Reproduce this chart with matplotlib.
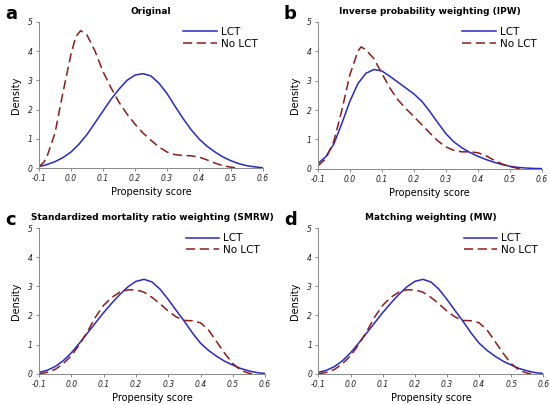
import numpy as np
import matplotlib.pyplot as plt

# x grid read at 0.025 steps (plus a few extra points near peaks)
x_a_lct = [-0.1, -0.075, -0.05, -0.025, 0.0, 0.025, 0.05, 0.075, 0.1, 0.125, 0.15, 0.175, 0.2, 0.225, 0.25,
           0.275, 0.3, 0.325, 0.35, 0.375, 0.4, 0.425, 0.45, 0.475, 0.5, 0.525, 0.55, 0.575, 0.6]
y_a_lct = [0.05, 0.12, 0.22, 0.36, 0.55, 0.82, 1.15, 1.55, 1.95, 2.35, 2.7, 3.0, 3.18, 3.23, 3.15,
           2.9, 2.55, 2.12, 1.7, 1.32, 1.0, 0.75, 0.55, 0.38, 0.25, 0.15, 0.08, 0.04, 0.01]
x_a_no = [-0.1, -0.085, -0.075, -0.05, -0.025, 0.0, 0.015, 0.03, 0.05, 0.075, 0.1, 0.125, 0.15, 0.175, 0.2,
          0.225, 0.25, 0.275, 0.3, 0.325, 0.35, 0.375, 0.4, 0.425, 0.45, 0.475, 0.5, 0.525]
y_a_no = [0.05, 0.2, 0.4, 1.2, 2.6, 3.9, 4.5, 4.7, 4.55, 4.0, 3.3, 2.75, 2.25, 1.85, 1.5,
          1.2, 0.95, 0.72, 0.55, 0.46, 0.43, 0.42, 0.38, 0.28, 0.17, 0.08, 0.03, 0.0]

x_b_lct = x_a_lct
y_b_lct = [0.18, 0.42, 0.85, 1.55, 2.3, 2.9, 3.25, 3.38, 3.33, 3.15, 2.95, 2.75, 2.55, 2.3, 1.95,
           1.57, 1.2, 0.92, 0.72, 0.56, 0.43, 0.32, 0.23, 0.15, 0.09, 0.05, 0.03, 0.015, 0.01]
x_b_no = [-0.1, -0.075, -0.05, -0.025, 0.0, 0.025, 0.035, 0.05, 0.075, 0.1, 0.125, 0.15, 0.175, 0.2, 0.225,
          0.25, 0.275, 0.3, 0.325, 0.35, 0.375, 0.4, 0.425, 0.45, 0.475, 0.5, 0.525, 0.54]
y_b_no = [0.1, 0.35, 0.95, 2.0, 3.2, 4.0, 4.15, 4.05, 3.75, 3.25, 2.75, 2.35, 2.05, 1.78, 1.5,
          1.22, 0.95, 0.75, 0.63, 0.58, 0.58, 0.55, 0.45, 0.3, 0.17, 0.08, 0.02, 0.0]

x_c_lct = x_a_lct
y_c_lct = [0.05, 0.12, 0.25, 0.45, 0.72, 1.05, 1.4, 1.75, 2.1, 2.42, 2.72, 2.98, 3.17, 3.24, 3.15,
           2.9, 2.55, 2.17, 1.8, 1.4, 1.05, 0.8, 0.6, 0.43, 0.3, 0.18, 0.1, 0.04, 0.01]
x_c_no = [-0.1, -0.075, -0.05, -0.025, 0.0, 0.025, 0.05, 0.075, 0.1, 0.125, 0.15, 0.175, 0.2, 0.225, 0.25,
          0.275, 0.3, 0.325, 0.35, 0.375, 0.4, 0.425, 0.45, 0.475, 0.5, 0.525, 0.55, 0.565]
y_c_no = [0.0, 0.05, 0.15, 0.35, 0.62, 1.0, 1.45, 1.95, 2.35, 2.62, 2.8, 2.88, 2.88, 2.8, 2.62,
          2.4, 2.15, 1.95, 1.83, 1.82, 1.75, 1.5, 1.1, 0.7, 0.35, 0.12, 0.02, 0.0]

# matching weighting looks the same as SMRW
x_d_lct, y_d_lct = x_c_lct, y_c_lct
x_d_no, y_d_no = x_c_no, y_c_no

titles = ['Original', 'Inverse probability weighting (IPW)',
          'Standardized mortality ratio weighting (SMRW)', 'Matching weighting (MW)']
letters = ['a', 'b', 'c', 'd']
xticks = [-0.1, 0.0, 0.1, 0.2, 0.3, 0.4, 0.5, 0.6]
xticklabels = ['-0.1', '0.0', '0.1', '0.2', '0.3', '0.4', '0.5', '0.6']
yticks = [0, 1, 2, 3, 4, 5]

blue = '#2828c8'
red = '#8b1c1c'

fig = plt.figure(figsize=(5.5, 4.05), dpi=100)
boxes = [[0.071, 0.585, 0.407, 0.361],
         [0.578, 0.583, 0.407, 0.363],
         [0.071, 0.077, 0.411, 0.360],
         [0.579, 0.077, 0.409, 0.360]]
data = [(x_a_lct, y_a_lct, x_a_no, y_a_no),
        (x_b_lct, y_b_lct, x_b_no, y_b_no),
        (x_c_lct, y_c_lct, x_c_no, y_c_no),
        (x_d_lct, y_d_lct, x_d_no, y_d_no)]

for i in range(4):
    ax = fig.add_axes(boxes[i])
    xl, yl, xn, yn = data[i]
    ax.plot(xl, yl, color=blue, lw=1.1, label='LCT')
    ax.plot(xn, yn, color=red, lw=1.1, ls=(0, (6, 3)), label='No LCT')
    ax.set_xlim(-0.1, 0.6)
    ax.set_ylim(0, 5)
    ax.set_xticks(xticks)
    ax.set_xticklabels(xticklabels, fontsize=5.5, style='italic', color='#222222')
    ax.set_yticks(yticks)
    ax.set_yticklabels([str(t) for t in yticks], fontsize=5.5, style='italic', color='#222222')
    ax.tick_params(length=2.5, width=0.6, color='#777777', pad=2)
    for s in ['top', 'right']:
        ax.spines[s].set_visible(False)
    for s in ['left', 'bottom']:
        ax.spines[s].set_color('#888888')
        ax.spines[s].set_linewidth(0.7)
    ax.set_xlabel('Propensity score', fontsize=7, labelpad=3)
    ax.set_ylabel('Density', fontsize=7, labelpad=5)
    ax.set_title(titles[i], fontsize=6.5, fontweight='bold', pad=6)
    ax.legend(loc='upper right', frameon=False, fontsize=7.5, handlelength=3.2,
              borderaxespad=0.1, labelspacing=0.15, handletextpad=0.4)
    fig.text(boxes[i][0] - 0.062, boxes[i][1] + boxes[i][3] + 0.02, letters[i],
             fontsize=13, fontweight='bold', va='center')

plt.savefig('out.png', dpi=100)
